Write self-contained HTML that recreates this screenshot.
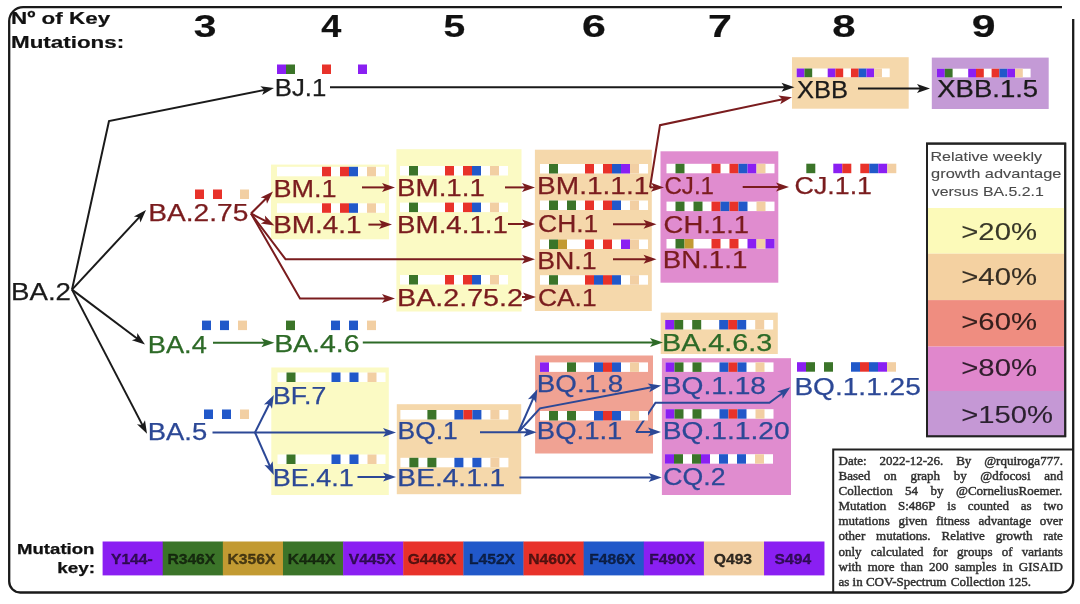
<!DOCTYPE html>
<html><head><meta charset="utf-8"><style>
html,body{margin:0;padding:0;background:#fff;width:1080px;height:604px;overflow:hidden}
svg{display:block;font-family:"Liberation Sans",sans-serif;filter:blur(0.5px)}
</style></head><body>
<svg width="1080" height="604" viewBox="0 0 1080 604">
<defs><marker id="ah_1a1a1a" viewBox="0 0 12 8" refX="11" refY="4" markerWidth="12" markerHeight="8" markerUnits="userSpaceOnUse" orient="auto"><path d="M0,0 L12,4 L0,8 L3,4 Z" fill="#1a1a1a"/></marker><marker id="ah_7a1c1e" viewBox="0 0 12 8" refX="11" refY="4" markerWidth="12" markerHeight="8" markerUnits="userSpaceOnUse" orient="auto"><path d="M0,0 L12,4 L0,8 L3,4 Z" fill="#7a1c1e"/></marker><marker id="ah_2d6a27" viewBox="0 0 12 8" refX="11" refY="4" markerWidth="12" markerHeight="8" markerUnits="userSpaceOnUse" orient="auto"><path d="M0,0 L12,4 L0,8 L3,4 Z" fill="#2d6a27"/></marker><marker id="ah_2c4896" viewBox="0 0 12 8" refX="11" refY="4" markerWidth="12" markerHeight="8" markerUnits="userSpaceOnUse" orient="auto"><path d="M0,0 L12,4 L0,8 L3,4 Z" fill="#2c4896"/></marker></defs>
<rect x="271" y="164.6" width="118" height="74.7" fill="#fbfac4" />
<rect x="396.4" y="149.2" width="125.1" height="162.3" fill="#fbfac4" />
<rect x="534.9" y="149.7" width="116.9" height="161.3" fill="#f5d8ab" />
<rect x="660.5" y="151.3" width="117.8" height="131.4" fill="#e08ccf" />
<rect x="792" y="57.2" width="116.7" height="51.5" fill="#f5d8ab" />
<rect x="931.8" y="57.6" width="116.9" height="51.4" fill="#c49ad6" />
<rect x="660.7" y="312.6" width="117.1" height="41.4" fill="#f5d8ab" />
<rect x="271.3" y="367.5" width="117.5" height="127.5" fill="#fbfac4" />
<rect x="396.8" y="404.2" width="124.4" height="90.0" fill="#f5d8ab" />
<rect x="535.1" y="355.5" width="117.9" height="98.0" fill="#f0a293" />
<rect x="661.9" y="358.2" width="129.1" height="136.8" fill="#e08ccf" />
<path d="M72,289.6 L109,121 L267.14,89.37" fill="none" stroke="#1a1a1a" stroke-width="2" stroke-linejoin="miter"/>
<path d="M274,88 l-13,-4.5 l3,4.5 l-3,4.5 z" transform="rotate(-11.31 274 88)" fill="#1a1a1a"/>
<path d="M72,289.6 L141.23,215.13" fill="none" stroke="#1a1a1a" stroke-width="2" stroke-linejoin="miter"/>
<path d="M146,210 l-13,-4.5 l3,4.5 l-3,4.5 z" transform="rotate(-47.09 146 210)" fill="#1a1a1a"/>
<path d="M72,289.6 L139.4,340.2" fill="none" stroke="#1a1a1a" stroke-width="2" stroke-linejoin="miter"/>
<path d="M145,344.4 l-13,-4.5 l3,4.5 l-3,4.5 z" transform="rotate(36.9 145 344.4)" fill="#1a1a1a"/>
<path d="M72,289.6 L143.77,427.59" fill="none" stroke="#1a1a1a" stroke-width="2" stroke-linejoin="miter"/>
<path d="M147,433.8 l-13,-4.5 l3,4.5 l-3,4.5 z" transform="rotate(62.52 147 433.8)" fill="#1a1a1a"/>
<path d="M330,87.3 L787.5,87.3" fill="none" stroke="#1a1a1a" stroke-width="2" stroke-linejoin="miter"/>
<path d="M794.5,87.3 l-13,-4.5 l3,4.5 l-3,4.5 z" transform="rotate(0.0 794.5 87.3)" fill="#1a1a1a"/>
<path d="M858,88.5 L923.0,88.5" fill="none" stroke="#1a1a1a" stroke-width="2" stroke-linejoin="miter"/>
<path d="M930,88.5 l-13,-4.5 l3,4.5 l-3,4.5 z" transform="rotate(0.0 930 88.5)" fill="#1a1a1a"/>
<path d="M251,213.5 L268.05,196.45" fill="none" stroke="#7a1c1e" stroke-width="2" stroke-linejoin="miter"/>
<path d="M273,191.5 l-13,-4.5 l3,4.5 l-3,4.5 z" transform="rotate(-45.0 273 191.5)" fill="#7a1c1e"/>
<path d="M251,213.5 L268.17,222.31" fill="none" stroke="#7a1c1e" stroke-width="2" stroke-linejoin="miter"/>
<path d="M274.4,225.5 l-13,-4.5 l3,4.5 l-3,4.5 z" transform="rotate(27.15 274.4 225.5)" fill="#7a1c1e"/>
<path d="M251,213.5 L285.5,259.2 L528.0,259.2" fill="none" stroke="#7a1c1e" stroke-width="2" stroke-linejoin="miter"/>
<path d="M535,259.2 l-13,-4.5 l3,4.5 l-3,4.5 z" transform="rotate(0.0 535 259.2)" fill="#7a1c1e"/>
<path d="M251,213.5 L300,298.4 L388.0,298.4" fill="none" stroke="#7a1c1e" stroke-width="2" stroke-linejoin="miter"/>
<path d="M395,298.4 l-13,-4.5 l3,4.5 l-3,4.5 z" transform="rotate(0.0 395 298.4)" fill="#7a1c1e"/>
<path d="M362,187.4 L388.0,187.4" fill="none" stroke="#7a1c1e" stroke-width="2" stroke-linejoin="miter"/>
<path d="M395,187.4 l-13,-4.5 l3,4.5 l-3,4.5 z" transform="rotate(0.0 395 187.4)" fill="#7a1c1e"/>
<path d="M368.4,224.6 L385.0,224.6" fill="none" stroke="#7a1c1e" stroke-width="2" stroke-linejoin="miter"/>
<path d="M392,224.6 l-13,-4.5 l3,4.5 l-3,4.5 z" transform="rotate(0.0 392 224.6)" fill="#7a1c1e"/>
<path d="M505,187.4 L528.0,187.4" fill="none" stroke="#7a1c1e" stroke-width="2" stroke-linejoin="miter"/>
<path d="M535,187.4 l-13,-4.5 l3,4.5 l-3,4.5 z" transform="rotate(0.0 535 187.4)" fill="#7a1c1e"/>
<path d="M508,224 L528.0,224.0" fill="none" stroke="#7a1c1e" stroke-width="2" stroke-linejoin="miter"/>
<path d="M535,224 l-13,-4.5 l3,4.5 l-3,4.5 z" transform="rotate(0.0 535 224)" fill="#7a1c1e"/>
<path d="M522,297 L529.0,297.0" fill="none" stroke="#7a1c1e" stroke-width="2" stroke-linejoin="miter"/>
<path d="M536,297 l-13,-4.5 l3,4.5 l-3,4.5 z" transform="rotate(0.0 536 297)" fill="#7a1c1e"/>
<path d="M650,187.3 L657.0,187.4" fill="none" stroke="#7a1c1e" stroke-width="2" stroke-linejoin="miter"/>
<path d="M664,187.5 l-13,-4.5 l3,4.5 l-3,4.5 z" transform="rotate(0.82 664 187.5)" fill="#7a1c1e"/>
<path d="M650,187.5 L660,125.2 L785.15,98.65" fill="none" stroke="#7a1c1e" stroke-width="2" stroke-linejoin="miter"/>
<path d="M792,97.2 l-13,-4.5 l3,4.5 l-3,4.5 z" transform="rotate(-11.98 792 97.2)" fill="#7a1c1e"/>
<path d="M613,224.2 L649.5,224.2" fill="none" stroke="#7a1c1e" stroke-width="2" stroke-linejoin="miter"/>
<path d="M656.5,224.2 l-13,-4.5 l3,4.5 l-3,4.5 z" transform="rotate(0.0 656.5 224.2)" fill="#7a1c1e"/>
<path d="M613,259.2 L649.5,259.2" fill="none" stroke="#7a1c1e" stroke-width="2" stroke-linejoin="miter"/>
<path d="M656.5,259.2 l-13,-4.5 l3,4.5 l-3,4.5 z" transform="rotate(0.0 656.5 259.2)" fill="#7a1c1e"/>
<path d="M742.7,187 L782.0,187.0" fill="none" stroke="#7a1c1e" stroke-width="2" stroke-linejoin="miter"/>
<path d="M789,187 l-13,-4.5 l3,4.5 l-3,4.5 z" transform="rotate(0.0 789 187)" fill="#7a1c1e"/>
<path d="M213,342.8 L267.4,342.8" fill="none" stroke="#2d6a27" stroke-width="2" stroke-linejoin="miter"/>
<path d="M274.4,342.8 l-13,-4.5 l3,4.5 l-3,4.5 z" transform="rotate(0.0 274.4 342.8)" fill="#2d6a27"/>
<path d="M362.8,342.6 L656.0,342.5" fill="none" stroke="#2d6a27" stroke-width="2" stroke-linejoin="miter"/>
<path d="M663,342.5 l-13,-4.5 l3,4.5 l-3,4.5 z" transform="rotate(-0.02 663 342.5)" fill="#2d6a27"/>
<path d="M212.5,432.5 L389.0,432.5" fill="none" stroke="#2c4896" stroke-width="2" stroke-linejoin="miter"/>
<path d="M396,432.5 l-13,-4.5 l3,4.5 l-3,4.5 z" transform="rotate(0.0 396 432.5)" fill="#2c4896"/>
<path d="M255,432.5 L270.66,401.26" fill="none" stroke="#2c4896" stroke-width="2" stroke-linejoin="miter"/>
<path d="M273.8,395 l-13,-4.5 l3,4.5 l-3,4.5 z" transform="rotate(-63.37 273.8 395)" fill="#2c4896"/>
<path d="M255,432.5 L270.97,468.6" fill="none" stroke="#2c4896" stroke-width="2" stroke-linejoin="miter"/>
<path d="M273.8,475 l-13,-4.5 l3,4.5 l-3,4.5 z" transform="rotate(66.14 273.8 475)" fill="#2c4896"/>
<path d="M357.5,477 L389.0,477.0" fill="none" stroke="#2c4896" stroke-width="2" stroke-linejoin="miter"/>
<path d="M396,477 l-13,-4.5 l3,4.5 l-3,4.5 z" transform="rotate(0.0 396 477)" fill="#2c4896"/>
<path d="M480,432.3 L529.7,432.3" fill="none" stroke="#2c4896" stroke-width="2" stroke-linejoin="miter"/>
<path d="M536.7,432.3 l-13,-4.5 l3,4.5 l-3,4.5 z" transform="rotate(0.0 536.7 432.3)" fill="#2c4896"/>
<path d="M518.4,432 L534.47,395.6" fill="none" stroke="#2c4896" stroke-width="2" stroke-linejoin="miter"/>
<path d="M537.3,389.2 l-13,-4.5 l3,4.5 l-3,4.5 z" transform="rotate(-66.17 537.3 389.2)" fill="#2c4896"/>
<path d="M518.4,432 L540,408.3 L654.32,386.79" fill="none" stroke="#2c4896" stroke-width="2" stroke-linejoin="miter"/>
<path d="M661.2,385.5 l-13,-4.5 l3,4.5 l-3,4.5 z" transform="rotate(-10.65 661.2 385.5)" fill="#2c4896"/>
<path d="M636,432 L654.0,432.0" fill="none" stroke="#2c4896" stroke-width="2" stroke-linejoin="miter"/>
<path d="M661,432 l-13,-4.5 l3,4.5 l-3,4.5 z" transform="rotate(0.0 661 432)" fill="#2c4896"/>
<path d="M636,432 L655.5,402.8 L769.4,402.8 L784.68,391.47" fill="none" stroke="#2c4896" stroke-width="2" stroke-linejoin="miter"/>
<path d="M790.3,387.3 l-13,-4.5 l3,4.5 l-3,4.5 z" transform="rotate(-36.56 790.3 387.3)" fill="#2c4896"/>
<path d="M519.4,477.4 L654.7,477.5" fill="none" stroke="#2c4896" stroke-width="2" stroke-linejoin="miter"/>
<path d="M661.7,477.5 l-13,-4.5 l3,4.5 l-3,4.5 z" transform="rotate(0.04 661.7 477.5)" fill="#2c4896"/>
<rect x="277.0" y="64.5" width="9.0" height="9.5" fill="#8a1ff2" />
<rect x="286.0" y="64.5" width="9.0" height="9.5" fill="#3b7429" />
<rect x="322.0" y="64.5" width="9.0" height="9.5" fill="#e8322a" />
<rect x="358.0" y="64.5" width="9.0" height="9.5" fill="#8a1ff2" />
<rect x="796.7" y="68.5" width="93.0" height="8.7" fill="#fff" />
<rect x="796.7" y="68.5" width="7.75" height="8.7" fill="#8a1ff2" />
<rect x="804.45" y="68.5" width="7.75" height="8.7" fill="#3b7429" />
<rect x="827.7" y="68.5" width="7.75" height="8.7" fill="#8a1ff2" />
<rect x="835.45" y="68.5" width="7.75" height="8.7" fill="#e8322a" />
<rect x="850.95" y="68.5" width="7.75" height="8.7" fill="#e8322a" />
<rect x="858.7" y="68.5" width="7.75" height="8.7" fill="#2158c9" />
<rect x="866.45" y="68.5" width="7.75" height="8.7" fill="#8a1ff2" />
<rect x="874.2" y="68.5" width="7.75" height="8.7" fill="#f2cfa3" />
<rect x="937" y="68.7" width="93.6" height="8.7" fill="#fff" />
<rect x="937.0" y="68.7" width="7.8" height="8.7" fill="#8a1ff2" />
<rect x="944.8" y="68.7" width="7.8" height="8.7" fill="#3b7429" />
<rect x="968.2" y="68.7" width="7.8" height="8.7" fill="#8a1ff2" />
<rect x="976.0" y="68.7" width="7.8" height="8.7" fill="#e8322a" />
<rect x="991.6" y="68.7" width="7.8" height="8.7" fill="#e8322a" />
<rect x="999.4" y="68.7" width="7.8" height="8.7" fill="#2158c9" />
<rect x="1007.2" y="68.7" width="7.8" height="8.7" fill="#8a1ff2" />
<rect x="1015.0" y="68.7" width="7.8" height="8.7" fill="#f2cfa3" />
<rect x="195.0" y="189.5" width="9.0" height="9.5" fill="#e8322a" />
<rect x="213.0" y="189.5" width="9.0" height="9.5" fill="#e8322a" />
<rect x="240.0" y="189.5" width="9.0" height="9.5" fill="#f2cfa3" />
<rect x="277" y="166.8" width="108.0" height="9.5" fill="#fff" />
<rect x="322.0" y="166.8" width="9.0" height="9.5" fill="#e8322a" />
<rect x="340.0" y="166.8" width="9.0" height="9.5" fill="#e8322a" />
<rect x="349.0" y="166.8" width="9.0" height="9.5" fill="#2158c9" />
<rect x="367.0" y="166.8" width="9.0" height="9.5" fill="#f2cfa3" />
<rect x="277" y="203.3" width="108.0" height="9.5" fill="#fff" />
<rect x="322.0" y="203.3" width="9.0" height="9.5" fill="#e8322a" />
<rect x="340.0" y="203.3" width="9.0" height="9.5" fill="#e8322a" />
<rect x="349.0" y="203.3" width="9.0" height="9.5" fill="#2158c9" />
<rect x="367.0" y="203.3" width="9.0" height="9.5" fill="#f2cfa3" />
<rect x="400" y="166" width="108.0" height="9.5" fill="#fff" />
<rect x="409.0" y="166" width="9.0" height="9.5" fill="#3b7429" />
<rect x="445.0" y="166" width="9.0" height="9.5" fill="#e8322a" />
<rect x="463.0" y="166" width="9.0" height="9.5" fill="#e8322a" />
<rect x="472.0" y="166" width="9.0" height="9.5" fill="#2158c9" />
<rect x="490.0" y="166" width="9.0" height="9.5" fill="#f2cfa3" />
<rect x="400" y="202.6" width="108.0" height="9.5" fill="#fff" />
<rect x="409.0" y="202.6" width="9.0" height="9.5" fill="#3b7429" />
<rect x="445.0" y="202.6" width="9.0" height="9.5" fill="#e8322a" />
<rect x="463.0" y="202.6" width="9.0" height="9.5" fill="#e8322a" />
<rect x="472.0" y="202.6" width="9.0" height="9.5" fill="#2158c9" />
<rect x="490.0" y="202.6" width="9.0" height="9.5" fill="#f2cfa3" />
<rect x="400" y="275" width="108.0" height="9.5" fill="#fff" />
<rect x="409.0" y="275" width="9.0" height="9.5" fill="#3b7429" />
<rect x="445.0" y="275" width="9.0" height="9.5" fill="#e8322a" />
<rect x="463.0" y="275" width="9.0" height="9.5" fill="#e8322a" />
<rect x="472.0" y="275" width="9.0" height="9.5" fill="#2158c9" />
<rect x="490.0" y="275" width="9.0" height="9.5" fill="#f2cfa3" />
<rect x="540" y="164" width="108.0" height="9.5" fill="#fff" />
<rect x="549.0" y="164" width="9.0" height="9.5" fill="#3b7429" />
<rect x="585.0" y="164" width="9.0" height="9.5" fill="#e8322a" />
<rect x="603.0" y="164" width="9.0" height="9.5" fill="#e8322a" />
<rect x="612.0" y="164" width="9.0" height="9.5" fill="#2158c9" />
<rect x="621.0" y="164" width="9.0" height="9.5" fill="#8a1ff2" />
<rect x="630.0" y="164" width="9.0" height="9.5" fill="#f2cfa3" />
<rect x="540" y="200.5" width="108.0" height="9.5" fill="#fff" />
<rect x="549.0" y="200.5" width="9.0" height="9.5" fill="#3b7429" />
<rect x="567.0" y="200.5" width="9.0" height="9.5" fill="#3b7429" />
<rect x="585.0" y="200.5" width="9.0" height="9.5" fill="#e8322a" />
<rect x="603.0" y="200.5" width="9.0" height="9.5" fill="#e8322a" />
<rect x="612.0" y="200.5" width="9.0" height="9.5" fill="#2158c9" />
<rect x="630.0" y="200.5" width="9.0" height="9.5" fill="#f2cfa3" />
<rect x="540" y="239.5" width="108.0" height="9.5" fill="#fff" />
<rect x="549.0" y="239.5" width="9.0" height="9.5" fill="#3b7429" />
<rect x="558.0" y="239.5" width="9.0" height="9.5" fill="#c29a32" />
<rect x="585.0" y="239.5" width="9.0" height="9.5" fill="#e8322a" />
<rect x="603.0" y="239.5" width="9.0" height="9.5" fill="#e8322a" />
<rect x="621.0" y="239.5" width="9.0" height="9.5" fill="#8a1ff2" />
<rect x="630.0" y="239.5" width="9.0" height="9.5" fill="#f2cfa3" />
<rect x="540" y="275.2" width="108.0" height="9.5" fill="#fff" />
<rect x="549.0" y="275.2" width="9.0" height="9.5" fill="#3b7429" />
<rect x="585.0" y="275.2" width="9.0" height="9.5" fill="#e8322a" />
<rect x="594.0" y="275.2" width="9.0" height="9.5" fill="#2158c9" />
<rect x="603.0" y="275.2" width="9.0" height="9.5" fill="#e8322a" />
<rect x="612.0" y="275.2" width="9.0" height="9.5" fill="#2158c9" />
<rect x="630.0" y="275.2" width="9.0" height="9.5" fill="#f2cfa3" />
<rect x="666.5" y="163.8" width="108.0" height="9.5" fill="#fff" />
<rect x="675.5" y="163.8" width="9.0" height="9.5" fill="#3b7429" />
<rect x="711.5" y="163.8" width="9.0" height="9.5" fill="#e8322a" />
<rect x="729.5" y="163.8" width="9.0" height="9.5" fill="#e8322a" />
<rect x="738.5" y="163.8" width="9.0" height="9.5" fill="#2158c9" />
<rect x="747.5" y="163.8" width="9.0" height="9.5" fill="#8a1ff2" />
<rect x="756.5" y="163.8" width="9.0" height="9.5" fill="#f2cfa3" />
<rect x="666.5" y="201.6" width="108.0" height="9.5" fill="#fff" />
<rect x="675.5" y="201.6" width="9.0" height="9.5" fill="#3b7429" />
<rect x="693.5" y="201.6" width="9.0" height="9.5" fill="#3b7429" />
<rect x="711.5" y="201.6" width="9.0" height="9.5" fill="#e8322a" />
<rect x="720.5" y="201.6" width="9.0" height="9.5" fill="#2158c9" />
<rect x="729.5" y="201.6" width="9.0" height="9.5" fill="#e8322a" />
<rect x="738.5" y="201.6" width="9.0" height="9.5" fill="#2158c9" />
<rect x="756.5" y="201.6" width="9.0" height="9.5" fill="#f2cfa3" />
<rect x="666.5" y="239" width="108.0" height="9.5" fill="#fff" />
<rect x="675.5" y="239" width="9.0" height="9.5" fill="#3b7429" />
<rect x="684.5" y="239" width="9.0" height="9.5" fill="#c29a32" />
<rect x="711.5" y="239" width="9.0" height="9.5" fill="#e8322a" />
<rect x="729.5" y="239" width="9.0" height="9.5" fill="#e8322a" />
<rect x="747.5" y="239" width="9.0" height="9.5" fill="#8a1ff2" />
<rect x="756.5" y="239" width="9.0" height="9.5" fill="#f2cfa3" />
<rect x="765.5" y="239" width="9.0" height="9.5" fill="#8a1ff2" />
<rect x="806.3" y="163.7" width="9.0" height="9.5" fill="#3b7429" />
<rect x="833.3" y="163.7" width="9.0" height="9.5" fill="#8a1ff2" />
<rect x="842.3" y="163.7" width="9.0" height="9.5" fill="#e8322a" />
<rect x="860.3" y="163.7" width="9.0" height="9.5" fill="#e8322a" />
<rect x="869.3" y="163.7" width="9.0" height="9.5" fill="#2158c9" />
<rect x="878.3" y="163.7" width="9.0" height="9.5" fill="#8a1ff2" />
<rect x="887.3" y="163.7" width="9.0" height="9.5" fill="#f2cfa3" />
<rect x="202.0" y="320.6" width="9.0" height="9.5" fill="#2158c9" />
<rect x="220.0" y="320.6" width="9.0" height="9.5" fill="#2158c9" />
<rect x="238.0" y="320.6" width="9.0" height="9.5" fill="#f2cfa3" />
<rect x="286.0" y="320.6" width="9.0" height="9.5" fill="#3b7429" />
<rect x="331.0" y="320.6" width="9.0" height="9.5" fill="#2158c9" />
<rect x="349.0" y="320.6" width="9.0" height="9.5" fill="#2158c9" />
<rect x="367.0" y="320.6" width="9.0" height="9.5" fill="#f2cfa3" />
<rect x="665.2" y="320" width="108.0" height="9.5" fill="#fff" />
<rect x="665.2" y="320" width="9.0" height="9.5" fill="#8a1ff2" />
<rect x="674.2" y="320" width="9.0" height="9.5" fill="#3b7429" />
<rect x="692.2" y="320" width="9.0" height="9.5" fill="#3b7429" />
<rect x="719.2" y="320" width="9.0" height="9.5" fill="#2158c9" />
<rect x="728.2" y="320" width="9.0" height="9.5" fill="#e8322a" />
<rect x="737.2" y="320" width="9.0" height="9.5" fill="#2158c9" />
<rect x="755.2" y="320" width="9.0" height="9.5" fill="#f2cfa3" />
<rect x="204.0" y="409.5" width="9.0" height="9.5" fill="#2158c9" />
<rect x="222.0" y="409.5" width="9.0" height="9.5" fill="#2158c9" />
<rect x="240.0" y="409.5" width="9.0" height="9.5" fill="#f2cfa3" />
<rect x="277.5" y="372.5" width="108.0" height="9.5" fill="#fff" />
<rect x="286.5" y="372.5" width="9.0" height="9.5" fill="#3b7429" />
<rect x="331.5" y="372.5" width="9.0" height="9.5" fill="#2158c9" />
<rect x="349.5" y="372.5" width="9.0" height="9.5" fill="#2158c9" />
<rect x="367.5" y="372.5" width="9.0" height="9.5" fill="#f2cfa3" />
<rect x="277.5" y="454.5" width="108.0" height="9.5" fill="#fff" />
<rect x="286.5" y="454.5" width="9.0" height="9.5" fill="#3b7429" />
<rect x="331.5" y="454.5" width="9.0" height="9.5" fill="#2158c9" />
<rect x="349.5" y="454.5" width="9.0" height="9.5" fill="#2158c9" />
<rect x="367.5" y="454.5" width="9.0" height="9.5" fill="#f2cfa3" />
<rect x="400.4" y="410" width="108.0" height="9.5" fill="#fff" />
<rect x="427.4" y="410" width="9.0" height="9.5" fill="#3b7429" />
<rect x="454.4" y="410" width="9.0" height="9.5" fill="#2158c9" />
<rect x="463.4" y="410" width="9.0" height="9.5" fill="#e8322a" />
<rect x="472.4" y="410" width="9.0" height="9.5" fill="#2158c9" />
<rect x="490.4" y="410" width="9.0" height="9.5" fill="#f2cfa3" />
<rect x="400.4" y="457.8" width="108.0" height="9.5" fill="#fff" />
<rect x="409.4" y="457.8" width="9.0" height="9.5" fill="#3b7429" />
<rect x="427.4" y="457.8" width="9.0" height="9.5" fill="#3b7429" />
<rect x="454.4" y="457.8" width="9.0" height="9.5" fill="#2158c9" />
<rect x="472.4" y="457.8" width="9.0" height="9.5" fill="#2158c9" />
<rect x="490.4" y="457.8" width="9.0" height="9.5" fill="#f2cfa3" />
<rect x="540" y="362.4" width="108.0" height="9.5" fill="#fff" />
<rect x="540.0" y="362.4" width="9.0" height="9.5" fill="#8a1ff2" />
<rect x="567.0" y="362.4" width="9.0" height="9.5" fill="#3b7429" />
<rect x="594.0" y="362.4" width="9.0" height="9.5" fill="#2158c9" />
<rect x="603.0" y="362.4" width="9.0" height="9.5" fill="#e8322a" />
<rect x="612.0" y="362.4" width="9.0" height="9.5" fill="#2158c9" />
<rect x="630.0" y="362.4" width="9.0" height="9.5" fill="#f2cfa3" />
<rect x="540" y="411" width="108.0" height="9.5" fill="#fff" />
<rect x="549.0" y="411" width="9.0" height="9.5" fill="#3b7429" />
<rect x="567.0" y="411" width="9.0" height="9.5" fill="#3b7429" />
<rect x="594.0" y="411" width="9.0" height="9.5" fill="#2158c9" />
<rect x="603.0" y="411" width="9.0" height="9.5" fill="#e8322a" />
<rect x="612.0" y="411" width="9.0" height="9.5" fill="#2158c9" />
<rect x="630.0" y="411" width="9.0" height="9.5" fill="#f2cfa3" />
<rect x="665.5" y="362.4" width="108.0" height="9.5" fill="#fff" />
<rect x="665.5" y="362.4" width="9.0" height="9.5" fill="#8a1ff2" />
<rect x="674.5" y="362.4" width="9.0" height="9.5" fill="#3b7429" />
<rect x="692.5" y="362.4" width="9.0" height="9.5" fill="#3b7429" />
<rect x="719.5" y="362.4" width="9.0" height="9.5" fill="#2158c9" />
<rect x="728.5" y="362.4" width="9.0" height="9.5" fill="#e8322a" />
<rect x="737.5" y="362.4" width="9.0" height="9.5" fill="#2158c9" />
<rect x="755.5" y="362.4" width="9.0" height="9.5" fill="#f2cfa3" />
<rect x="665.5" y="409.2" width="108.0" height="9.5" fill="#fff" />
<rect x="665.5" y="409.2" width="9.0" height="9.5" fill="#8a1ff2" />
<rect x="674.5" y="409.2" width="9.0" height="9.5" fill="#3b7429" />
<rect x="692.5" y="409.2" width="9.0" height="9.5" fill="#3b7429" />
<rect x="719.5" y="409.2" width="9.0" height="9.5" fill="#2158c9" />
<rect x="728.5" y="409.2" width="9.0" height="9.5" fill="#e8322a" />
<rect x="737.5" y="409.2" width="9.0" height="9.5" fill="#2158c9" />
<rect x="755.5" y="409.2" width="9.0" height="9.5" fill="#f2cfa3" />
<rect x="665" y="454.2" width="108.0" height="9.5" fill="#fff" />
<rect x="665.0" y="454.2" width="9.0" height="9.5" fill="#8a1ff2" />
<rect x="674.0" y="454.2" width="9.0" height="9.5" fill="#3b7429" />
<rect x="692.0" y="454.2" width="9.0" height="9.5" fill="#3b7429" />
<rect x="701.0" y="454.2" width="9.0" height="9.5" fill="#8a1ff2" />
<rect x="719.0" y="454.2" width="9.0" height="9.5" fill="#2158c9" />
<rect x="737.0" y="454.2" width="9.0" height="9.5" fill="#2158c9" />
<rect x="755.0" y="454.2" width="9.0" height="9.5" fill="#f2cfa3" />
<rect x="797.0" y="362.2" width="9.0" height="9.5" fill="#8a1ff2" />
<rect x="806.0" y="362.2" width="9.0" height="9.5" fill="#3b7429" />
<rect x="824.0" y="362.2" width="9.0" height="9.5" fill="#3b7429" />
<rect x="851.0" y="362.2" width="9.0" height="9.5" fill="#2158c9" />
<rect x="860.0" y="362.2" width="9.0" height="9.5" fill="#e8322a" />
<rect x="869.0" y="362.2" width="9.0" height="9.5" fill="#2158c9" />
<rect x="878.0" y="362.2" width="9.0" height="9.5" fill="#8a1ff2" />
<rect x="887.0" y="362.2" width="9.0" height="9.5" fill="#f2cfa3" />
<text x="11.03" y="300" fill="#1a1a1a" stroke="#1a1a1a" stroke-width="0.25" font-size="24" font-weight="normal" textLength="59.96" lengthAdjust="spacingAndGlyphs" >BA.2</text>
<text x="274.79" y="96.2" fill="#1a1a1a" stroke="#1a1a1a" stroke-width="0.25" font-size="23" font-weight="normal" textLength="51.47" lengthAdjust="spacingAndGlyphs" >BJ.1</text>
<text x="796.93" y="97.5" fill="#1a1a1a" stroke="#1a1a1a" stroke-width="0.25" font-size="23" font-weight="normal" textLength="51.12" lengthAdjust="spacingAndGlyphs" >XBB</text>
<text x="937.18" y="97.4" fill="#1a1a1a" stroke="#1a1a1a" stroke-width="0.25" font-size="23" font-weight="normal" textLength="100.97" lengthAdjust="spacingAndGlyphs" >XBB.1.5</text>
<text x="148.29" y="221.2" fill="#7a1c1e" stroke="#7a1c1e" stroke-width="0.25" font-size="23" font-weight="normal" textLength="100.09" lengthAdjust="spacingAndGlyphs" >BA.2.75</text>
<text x="273.48" y="196.9" fill="#7a1c1e" stroke="#7a1c1e" stroke-width="0.25" font-size="23" font-weight="normal" textLength="63.14" lengthAdjust="spacingAndGlyphs" >BM.1</text>
<text x="273.21" y="232.8" fill="#7a1c1e" stroke="#7a1c1e" stroke-width="0.25" font-size="23" font-weight="normal" textLength="88.35" lengthAdjust="spacingAndGlyphs" >BM.4.1</text>
<text x="397.13" y="195.9" fill="#7a1c1e" stroke="#7a1c1e" stroke-width="0.25" font-size="23" font-weight="normal" textLength="87.72" lengthAdjust="spacingAndGlyphs" >BM.1.1</text>
<text x="397.13" y="232.5" fill="#7a1c1e" stroke="#7a1c1e" stroke-width="0.25" font-size="23" font-weight="normal" textLength="110.82" lengthAdjust="spacingAndGlyphs" >BM.4.1.1</text>
<text x="397.05" y="305.8" fill="#7a1c1e" stroke="#7a1c1e" stroke-width="0.25" font-size="23" font-weight="normal" textLength="125.89" lengthAdjust="spacingAndGlyphs" >BA.2.75.2</text>
<text x="537.1" y="194.4" fill="#7a1c1e" stroke="#7a1c1e" stroke-width="0.25" font-size="23" font-weight="normal" textLength="112.27" lengthAdjust="spacingAndGlyphs" >BM.1.1.1</text>
<text x="538.06" y="231.6" fill="#7a1c1e" stroke="#7a1c1e" stroke-width="0.25" font-size="23" font-weight="normal" textLength="60.23" lengthAdjust="spacingAndGlyphs" >CH.1</text>
<text x="537.21" y="268.8" fill="#7a1c1e" stroke="#7a1c1e" stroke-width="0.25" font-size="23" font-weight="normal" textLength="59.4" lengthAdjust="spacingAndGlyphs" >BN.1</text>
<text x="538.06" y="305.5" fill="#7a1c1e" stroke="#7a1c1e" stroke-width="0.25" font-size="23" font-weight="normal" textLength="58.52" lengthAdjust="spacingAndGlyphs" >CA.1</text>
<text x="664.48" y="194.1" fill="#7a1c1e" stroke="#7a1c1e" stroke-width="0.25" font-size="23" font-weight="normal" textLength="49.5" lengthAdjust="spacingAndGlyphs" >CJ.1</text>
<text x="663.61" y="233" fill="#7a1c1e" stroke="#7a1c1e" stroke-width="0.25" font-size="23" font-weight="normal" textLength="85.43" lengthAdjust="spacingAndGlyphs" >CH.1.1</text>
<text x="662.73" y="268.4" fill="#7a1c1e" stroke="#7a1c1e" stroke-width="0.25" font-size="23" font-weight="normal" textLength="84.62" lengthAdjust="spacingAndGlyphs" >BN.1.1</text>
<text x="794.64" y="194" fill="#7a1c1e" stroke="#7a1c1e" stroke-width="0.25" font-size="23" font-weight="normal" textLength="77.37" lengthAdjust="spacingAndGlyphs" >CJ.1.1</text>
<text x="147.77" y="352.8" fill="#2d6a27" stroke="#2d6a27" stroke-width="0.25" font-size="23" font-weight="normal" textLength="59.03" lengthAdjust="spacingAndGlyphs" >BA.4</text>
<text x="274.17" y="351.7" fill="#2d6a27" stroke="#2d6a27" stroke-width="0.25" font-size="23" font-weight="normal" textLength="85.38" lengthAdjust="spacingAndGlyphs" >BA.4.6</text>
<text x="662.04" y="351.1" fill="#2d6a27" stroke="#2d6a27" stroke-width="0.25" font-size="23" font-weight="normal" textLength="110.22" lengthAdjust="spacingAndGlyphs" >BA.4.6.3</text>
<text x="147.75" y="440" fill="#2c4896" stroke="#2c4896" stroke-width="0.25" font-size="23" font-weight="normal" textLength="59.4" lengthAdjust="spacingAndGlyphs" >BA.5</text>
<text x="272.93" y="403.8" fill="#2c4896" stroke="#2c4896" stroke-width="0.25" font-size="23" font-weight="normal" textLength="53.34" lengthAdjust="spacingAndGlyphs" >BF.7</text>
<text x="272.79" y="486" fill="#2c4896" stroke="#2c4896" stroke-width="0.25" font-size="23" font-weight="normal" textLength="81.03" lengthAdjust="spacingAndGlyphs" >BE.4.1</text>
<text x="397.53" y="439.2" fill="#2c4896" stroke="#2c4896" stroke-width="0.25" font-size="23" font-weight="normal" textLength="60.26" lengthAdjust="spacingAndGlyphs" >BQ.1</text>
<text x="397.39" y="485.6" fill="#2c4896" stroke="#2c4896" stroke-width="0.25" font-size="23" font-weight="normal" textLength="107.88" lengthAdjust="spacingAndGlyphs" >BE.4.1.1</text>
<text x="536.82" y="392.3" fill="#2c4896" stroke="#2c4896" stroke-width="0.25" font-size="23" font-weight="normal" textLength="86.38" lengthAdjust="spacingAndGlyphs" >BQ.1.8</text>
<text x="536.85" y="439.3" fill="#2c4896" stroke="#2c4896" stroke-width="0.25" font-size="23" font-weight="normal" textLength="85.49" lengthAdjust="spacingAndGlyphs" >BQ.1.1</text>
<text x="662.69" y="393.7" fill="#2c4896" stroke="#2c4896" stroke-width="0.25" font-size="23" font-weight="normal" textLength="103.33" lengthAdjust="spacingAndGlyphs" >BQ.1.18</text>
<text x="662.69" y="439.3" fill="#2c4896" stroke="#2c4896" stroke-width="0.25" font-size="23" font-weight="normal" textLength="126.91" lengthAdjust="spacingAndGlyphs" >BQ.1.1.20</text>
<text x="663.35" y="485" fill="#2c4896" stroke="#2c4896" stroke-width="0.25" font-size="23" font-weight="normal" textLength="62.19" lengthAdjust="spacingAndGlyphs" >CQ.2</text>
<text x="794.4" y="394.7" fill="#2c4896" stroke="#2c4896" stroke-width="0.25" font-size="23" font-weight="normal" textLength="126.38" lengthAdjust="spacingAndGlyphs" >BQ.1.1.25</text>
<text x="11.0" y="24.3" fill="#111" stroke="#111" stroke-width="0.2" font-size="17" font-weight="bold" textLength="99.12" lengthAdjust="spacingAndGlyphs" >N&#186; of Key</text>
<text x="11.0" y="47.8" fill="#111" stroke="#111" stroke-width="0.2" font-size="17" font-weight="bold" textLength="113.15" lengthAdjust="spacingAndGlyphs" >Mutations:</text>
<text x="193.66" y="37.2" fill="#111" stroke="#111" stroke-width="0.2" font-size="32" font-weight="bold" textLength="22.71" lengthAdjust="spacingAndGlyphs" >3</text>
<text x="321.15" y="37.2" fill="#111" stroke="#111" stroke-width="0.2" font-size="32" font-weight="bold" textLength="20.04" lengthAdjust="spacingAndGlyphs" >4</text>
<text x="443.4" y="37.2" fill="#111" stroke="#111" stroke-width="0.2" font-size="32" font-weight="bold" textLength="21.68" lengthAdjust="spacingAndGlyphs" >5</text>
<text x="582.03" y="37.2" fill="#111" stroke="#111" stroke-width="0.2" font-size="32" font-weight="bold" textLength="23.82" lengthAdjust="spacingAndGlyphs" >6</text>
<text x="708.05" y="37.2" fill="#111" stroke="#111" stroke-width="0.2" font-size="32" font-weight="bold" textLength="23.94" lengthAdjust="spacingAndGlyphs" >7</text>
<text x="832.27" y="37.2" fill="#111" stroke="#111" stroke-width="0.2" font-size="32" font-weight="bold" textLength="23.32" lengthAdjust="spacingAndGlyphs" >8</text>
<text x="971.72" y="37.2" fill="#111" stroke="#111" stroke-width="0.2" font-size="32" font-weight="bold" textLength="23.77" lengthAdjust="spacingAndGlyphs" >9</text>
<rect x="927" y="143.6" width="138.2" height="292.6" fill="#fff" stroke="#222" stroke-width="2"/>
<rect x="928" y="208" width="136.2" height="45.7" fill="#fcfab9" />
<rect x="928" y="253.7" width="136.2" height="46.4" fill="#f4d1a1" />
<rect x="928" y="300.1" width="136.2" height="46.5" fill="#ef8d80" />
<rect x="928" y="346.6" width="136.2" height="44.4" fill="#e087cc" />
<rect x="928" y="391" width="136.2" height="45" fill="#c598d5" />
<text x="961.25" y="239.7" fill="rgba(0,0,0,0.78)" stroke="rgba(0,0,0,0.78)" stroke-width="0.1" font-size="23" font-weight="normal" textLength="75.79" lengthAdjust="spacingAndGlyphs" >&gt;20%</text>
<text x="961.25" y="284.6" fill="rgba(0,0,0,0.78)" stroke="rgba(0,0,0,0.78)" stroke-width="0.1" font-size="23" font-weight="normal" textLength="75.79" lengthAdjust="spacingAndGlyphs" >&gt;40%</text>
<text x="961.25" y="330" fill="rgba(0,0,0,0.78)" stroke="rgba(0,0,0,0.78)" stroke-width="0.1" font-size="23" font-weight="normal" textLength="75.79" lengthAdjust="spacingAndGlyphs" >&gt;60%</text>
<text x="961.25" y="376.4" fill="rgba(0,0,0,0.78)" stroke="rgba(0,0,0,0.78)" stroke-width="0.1" font-size="23" font-weight="normal" textLength="75.79" lengthAdjust="spacingAndGlyphs" >&gt;80%</text>
<text x="961.26" y="422.9" fill="rgba(0,0,0,0.78)" stroke="rgba(0,0,0,0.78)" stroke-width="0.1" font-size="23" font-weight="normal" textLength="91.78" lengthAdjust="spacingAndGlyphs" >&gt;150%</text>
<rect x="927" y="143.6" width="138.2" height="292.6" fill="none" stroke="#222" stroke-width="2"/>
<text x="930.48" y="160.5" fill="#4a4a4a" stroke="#4a4a4a" stroke-width="0.1" font-size="13" font-weight="normal" textLength="111.55" lengthAdjust="spacingAndGlyphs" >Relative weekly</text>
<text x="931.11" y="178.3" fill="#4a4a4a" stroke="#4a4a4a" stroke-width="0.1" font-size="13" font-weight="normal" textLength="130.32" lengthAdjust="spacingAndGlyphs" >growth advantage</text>
<text x="931.75" y="196" fill="#4a4a4a" stroke="#4a4a4a" stroke-width="0.1" font-size="13" font-weight="normal" textLength="112.03" lengthAdjust="spacingAndGlyphs" >versus BA.5.2.1</text>
<rect x="102.6" y="541.5" width="60.43" height="33.9" fill="#8a1ff2" />
<rect x="162.73" y="541.5" width="60.43" height="33.9" fill="#3b7429" />
<rect x="222.86" y="541.5" width="60.43" height="33.9" fill="#c29a32" />
<rect x="282.99" y="541.5" width="60.43" height="33.9" fill="#3b7429" />
<rect x="343.12" y="541.5" width="60.43" height="33.9" fill="#8a1ff2" />
<rect x="403.25" y="541.5" width="60.43" height="33.9" fill="#e8322a" />
<rect x="463.38" y="541.5" width="60.43" height="33.9" fill="#2158c9" />
<rect x="523.51" y="541.5" width="60.43" height="33.9" fill="#e8322a" />
<rect x="583.64" y="541.5" width="60.43" height="33.9" fill="#2158c9" />
<rect x="643.77" y="541.5" width="60.43" height="33.9" fill="#8a1ff2" />
<rect x="703.9" y="541.5" width="60.43" height="33.9" fill="#f2cfa3" />
<rect x="764.03" y="541.5" width="60.43" height="33.9" fill="#8a1ff2" />
<text x="110.95" y="563.5" fill="rgba(0,0,0,0.62)" stroke="rgba(0,0,0,0.62)" stroke-width="0.3" font-size="14.5" font-weight="bold" textLength="41.78" lengthAdjust="spacingAndGlyphs" >Y144-</text>
<text x="167.4" y="563.5" fill="rgba(0,0,0,0.62)" stroke="rgba(0,0,0,0.62)" stroke-width="0.3" font-size="14.5" font-weight="bold" textLength="47.88" lengthAdjust="spacingAndGlyphs" >R346X</text>
<text x="227.53" y="563.5" fill="rgba(0,0,0,0.62)" stroke="rgba(0,0,0,0.62)" stroke-width="0.3" font-size="14.5" font-weight="bold" textLength="47.88" lengthAdjust="spacingAndGlyphs" >K356X</text>
<text x="287.66" y="563.5" fill="rgba(0,0,0,0.62)" stroke="rgba(0,0,0,0.62)" stroke-width="0.3" font-size="14.5" font-weight="bold" textLength="47.88" lengthAdjust="spacingAndGlyphs" >K444X</text>
<text x="348.69" y="563.5" fill="rgba(0,0,0,0.62)" stroke="rgba(0,0,0,0.62)" stroke-width="0.3" font-size="14.5" font-weight="bold" textLength="47.01" lengthAdjust="spacingAndGlyphs" >V445X</text>
<text x="407.69" y="563.5" fill="rgba(0,0,0,0.62)" stroke="rgba(0,0,0,0.62)" stroke-width="0.3" font-size="14.5" font-weight="bold" textLength="48.75" lengthAdjust="spacingAndGlyphs" >G446X</text>
<text x="468.92" y="563.5" fill="rgba(0,0,0,0.62)" stroke="rgba(0,0,0,0.62)" stroke-width="0.3" font-size="14.5" font-weight="bold" textLength="46.14" lengthAdjust="spacingAndGlyphs" >L452X</text>
<text x="528.18" y="563.5" fill="rgba(0,0,0,0.62)" stroke="rgba(0,0,0,0.62)" stroke-width="0.3" font-size="14.5" font-weight="bold" textLength="47.88" lengthAdjust="spacingAndGlyphs" >N460X</text>
<text x="589.18" y="563.5" fill="rgba(0,0,0,0.62)" stroke="rgba(0,0,0,0.62)" stroke-width="0.3" font-size="14.5" font-weight="bold" textLength="46.14" lengthAdjust="spacingAndGlyphs" >F486X</text>
<text x="649.31" y="563.5" fill="rgba(0,0,0,0.62)" stroke="rgba(0,0,0,0.62)" stroke-width="0.3" font-size="14.5" font-weight="bold" textLength="46.14" lengthAdjust="spacingAndGlyphs" >F490X</text>
<text x="713.77" y="563.5" fill="rgba(0,0,0,0.8)" stroke="rgba(0,0,0,0.8)" stroke-width="0.3" font-size="14.5" font-weight="bold" textLength="38.32" lengthAdjust="spacingAndGlyphs" >Q493</text>
<text x="774.63" y="563.5" fill="rgba(0,0,0,0.62)" stroke="rgba(0,0,0,0.62)" stroke-width="0.3" font-size="14.5" font-weight="bold" textLength="36.57" lengthAdjust="spacingAndGlyphs" >S494</text>
<text x="17.06" y="553.9" fill="#111" stroke="#111" stroke-width="0.25" font-size="14.5" font-weight="bold" textLength="77.4" lengthAdjust="spacingAndGlyphs" >Mutation</text>
<text x="57.28" y="573" fill="#111" stroke="#111" stroke-width="0.25" font-size="14.5" font-weight="bold" textLength="37.84" lengthAdjust="spacingAndGlyphs" >key:</text>
<path d="M833.2,592 L833.2,449.6 L1073.2,449.6" fill="none" stroke="#222" stroke-width="2"/>
<text y="464.6" fill="#303030" stroke="#303030" stroke-width="0.45" font-family="Liberation Serif, serif" font-size="13"><tspan x="838.5">Date:</tspan><tspan x="879.45">2022-12-26.</tspan><tspan x="956.16">By</tspan><tspan x="984.14">@rquiroga777.</tspan></text>
<text y="479.76" fill="#303030" stroke="#303030" stroke-width="0.45" font-family="Liberation Serif, serif" font-size="13"><tspan x="838.5">Based</tspan><tspan x="883.87">on</tspan><tspan x="910.48">graph</tspan><tspan x="953.68">by</tspan><tspan x="980.28">@dfocosi</tspan><tspan x="1044.13">and</tspan></text>
<text y="494.92" fill="#303030" stroke="#303030" stroke-width="0.45" font-family="Liberation Serif, serif" font-size="13"><tspan x="838.5">Collection</tspan><tspan x="905.1">54</tspan><tspan x="930.54">by</tspan><tspan x="955.97">@CorneliusRoemer.</tspan></text>
<text y="510.08" fill="#303030" stroke="#303030" stroke-width="0.45" font-family="Liberation Serif, serif" font-size="13"><tspan x="838.5">Mutation</tspan><tspan x="897.97">S:486P</tspan><tspan x="947.34">is</tspan><tspan x="967.81">counted</tspan><tspan x="1020.77">as</tspan><tspan x="1043.4">two</tspan></text>
<text y="525.24" fill="#303030" stroke="#303030" stroke-width="0.45" font-family="Liberation Serif, serif" font-size="13"><tspan x="838.5">mutations</tspan><tspan x="898.4">given</tspan><tspan x="935.91">fitness</tspan><tspan x="978.48">advantage</tspan><tspan x="1039.8">over</tspan></text>
<text y="540.4" fill="#303030" stroke="#303030" stroke-width="0.45" font-family="Liberation Serif, serif" font-size="13"><tspan x="838.5">other</tspan><tspan x="876.09">mutations.</tspan><tspan x="941.51">Relative</tspan><tspan x="995.71">growth</tspan><tspan x="1043.42">rate</tspan></text>
<text y="555.56" fill="#303030" stroke="#303030" stroke-width="0.45" font-family="Liberation Serif, serif" font-size="13"><tspan x="838.5">only</tspan><tspan x="870.83">calculated</tspan><tspan x="932.73">for</tspan><tspan x="957.1">groups</tspan><tspan x="1001.7">of</tspan><tspan x="1021.75">variants</tspan></text>
<text y="570.72" fill="#303030" stroke="#303030" stroke-width="0.45" font-family="Liberation Serif, serif" font-size="13"><tspan x="838.5">with</tspan><tspan x="867.72">more</tspan><tspan x="900.54">than</tspan><tspan x="929.03">200</tspan><tspan x="954.64">samples</tspan><tspan x="1002.63">in</tspan><tspan x="1018.85">GISAID</tspan></text>
<text y="585.88" fill="#303030" stroke="#303030" stroke-width="0.45" font-family="Liberation Serif, serif" font-size="13"><tspan x="838.5">as</tspan><tspan x="852.58">in</tspan><tspan x="865.94">COV-Spectrum</tspan><tspan x="950.79">Collection</tspan><tspan x="1008.2">125.</tspan></text>
<path d="M9.2,21.1 A14,14 0 0 1 23.2,7.1 L1062,7.1 M1073.2,19 L1073.2,580.5 A12,12 0 0 1 1061.2,592.5 L20.2,592.5 A11,11 0 0 1 9.2,581.5 L9.2,21.1" fill="none" stroke="#1a1a1a" stroke-width="2.3"/>
</svg>
</body></html>
